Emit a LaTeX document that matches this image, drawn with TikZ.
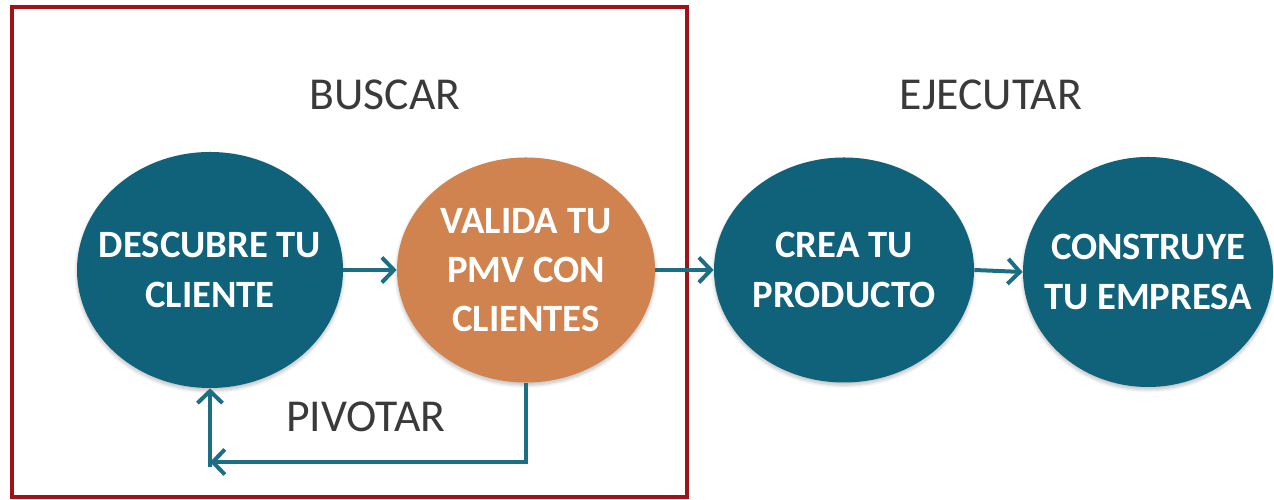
\documentclass[tikz,border=0pt]{standalone}
\usepackage{fontspec}
\setmainfont{Carlito}
\usetikzlibrary{shapes.geometric,arrows.meta,shadows.blur}
\definecolor{tealc}{HTML}{0F6279}
\definecolor{orangec}{HTML}{D0834F}
\definecolor{linec}{HTML}{1C6E85}
\definecolor{framec}{HTML}{A11217}
\definecolor{titlec}{HTML}{3A3A3A}
\begin{document}
\begin{tikzpicture}[
    stage/.style={ellipse, minimum width=5.2cm, minimum height=4.5cm, inner sep=0pt, fill=tealc,
      blur shadow={shadow xshift=0pt, shadow yshift=-1.5pt, shadow opacity=25, shadow blur steps=6}},
    stagetext/.style={text=white, font=\bfseries\fontsize{22}{28}\selectfont, align=center},
    phase/.style={text=titlec, font=\fontsize{26}{30}\selectfont},
    flow/.style={draw=linec, line width=0.08cm, -{Straight Barb[length=2.4mm,width=5mm]}}
  ]
  \useasboundingbox (0,0) rectangle (25.48,10);
  \draw[framec, line width=0.08cm] (0.24,0.06) rectangle (13.74,9.86);

  \node[phase] (buscar) at (7.7,8.1) {BUSCAR};
  \node[phase] (ejecutar) at (19.82,8.1) {EJECUTAR};
  \node[phase] (pivotar) at (7.32,1.66) {PIVOTAR};

  \node[stage, minimum width=5.32cm, minimum height=4.72cm] (desc) at (4.2,4.6)
    [label={[stagetext]center:DESCUBRE TU\\CLIENTE}] {};
  \node[stage, minimum width=5.16cm, fill=orangec] (valida) at (10.52,4.6)
    [label={[stagetext]center:VALIDA TU\\PMV CON\\CLIENTES}] {};
  \node[stage] (crea) at (16.88,4.6)
    [label={[stagetext]center:CREA TU\\PRODUCTO}] {};
  \node[stage, minimum width=5.0cm, minimum height=4.6cm] (construye) at (22.96,4.56)
    [label={[stagetext]center:CONSTRUYE\\TU EMPRESA}] {};

  \coordinate (turn) at (4.2,0.76);

  \draw[flow] (desc.east) -- (valida.west);
  \draw[flow] (valida.east) -- (crea.west);
  \draw[flow] (crea.east) -- (construye.west);
  \draw[flow] (valida.south) |- (turn);
  \draw[flow] ([yshift=-0.1cm]turn) -- (desc.south);
\end{tikzpicture}
\end{document}
